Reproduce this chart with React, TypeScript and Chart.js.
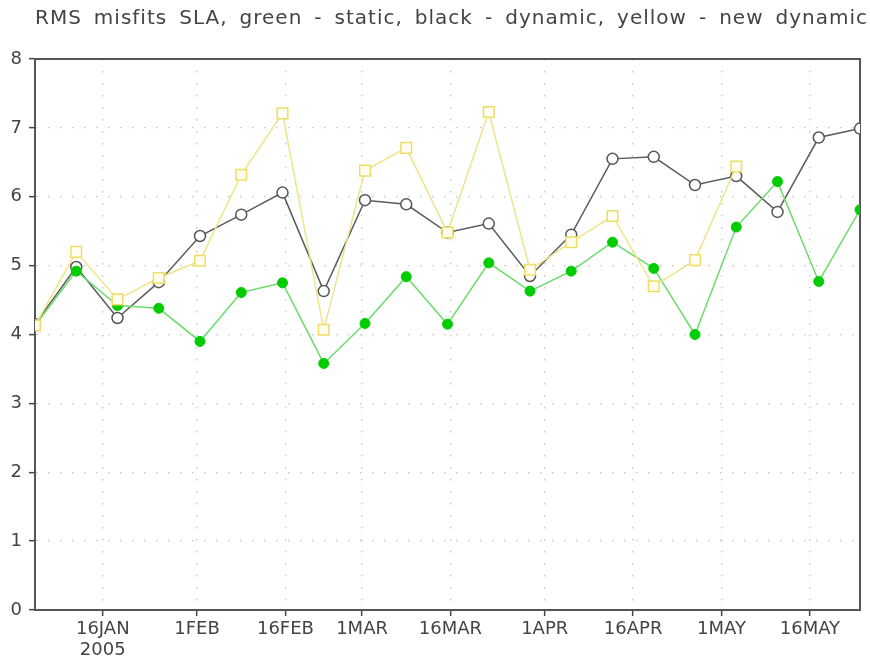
import React, { useEffect, useRef } from "react";
import { Chart, registerables } from "chart.js";

Chart.register(...registerables);

const TITLE = "RMS misfits SLA, green - static, black - dynamic, yellow - new dynamic";

// weekly analysis dates (12Z)
const dates = [
  "2005-01-04T12:00:00Z", "2005-01-11T12:00:00Z", "2005-01-18T12:00:00Z", "2005-01-25T12:00:00Z",
  "2005-02-01T12:00:00Z", "2005-02-08T12:00:00Z", "2005-02-15T12:00:00Z", "2005-02-22T12:00:00Z",
  "2005-03-01T12:00:00Z", "2005-03-08T12:00:00Z", "2005-03-15T12:00:00Z", "2005-03-22T12:00:00Z",
  "2005-03-29T12:00:00Z", "2005-04-05T12:00:00Z", "2005-04-12T12:00:00Z", "2005-04-19T12:00:00Z",
  "2005-04-26T12:00:00Z", "2005-05-03T12:00:00Z", "2005-05-10T12:00:00Z", "2005-05-17T12:00:00Z",
  "2005-05-24T12:00:00Z",
];

const staticRms = [
  4.13, 4.92, 4.42, 4.38, 3.9, 4.61, 4.75, 3.58, 4.16, 4.84, 4.15,
  5.04, 4.63, 4.92, 5.34, 4.96, 4.0, 5.56, 6.22, 4.77, 5.81,
];

const dynamicRms = [
  4.15, 4.98, 4.24, 4.76, 5.43, 5.74, 6.06, 4.63, 5.95, 5.89, 5.48,
  5.61, 4.85, 5.45, 6.55, 6.58, 6.17, 6.3, 5.78, 6.86, 6.99,
];

const newDynamicRms: (number | null)[] = [
  4.13, 5.2, 4.51, 4.82, 5.07, 6.32, 7.21, 4.07, 6.38, 6.71, 5.48,
  7.23, 4.94, 5.34, 5.72, 4.7, 5.08, 6.44, null, null, null,
];

const tickDates = [
  "2005-01-16T00:00:00Z", "2005-02-01T00:00:00Z", "2005-02-16T00:00:00Z",
  "2005-03-01T00:00:00Z", "2005-03-16T00:00:00Z", "2005-04-01T00:00:00Z",
  "2005-04-16T00:00:00Z", "2005-05-01T00:00:00Z", "2005-05-16T00:00:00Z",
];
const tickLabels: (string | string[])[] = [
  ["16JAN", "2005"], "1FEB", "16FEB", "1MAR", "16MAR", "1APR", "16APR", "1MAY", "16MAY",
];

const yTicks = [0, 1, 2, 3, 4, 5, 6, 7, 8];

const DAY0 = Date.UTC(2005, 0, 1);
const toDay = (iso: string) => (Date.parse(iso) - DAY0) / 86400000;

const FONT = '"DejaVu Sans", "Noto Sans", sans-serif';
const TEXT = "#444";

const titlePlugin = {
  id: "rmsTitle",
  afterDraw(chart: any) {
    const ctx = chart.ctx as CanvasRenderingContext2D;
    ctx.save();
    ctx.font = `20px ${FONT}`;
    (ctx as any).letterSpacing = "1px";
    ctx.fillStyle = TEXT;
    ctx.textAlign = "left";
    ctx.textBaseline = "alphabetic";
    const words = TITLE.split(" ");
    const widths = words.map((w) => ctx.measureText(w).width);
    const total = widths.reduce((a, b) => a + b, 0);
    const left = 35;
    const right = 868;
    const gap = (right - left - total) / (words.length - 1);
    let x = left;
    words.forEach((w, i) => {
      ctx.fillText(w, x, 24);
      x += widths[i] + gap;
    });
    ctx.restore();
  },
};

const framePlugin = {
  id: "frame",
  beforeDatasetsDraw(chart: any) {
    const { ctx, chartArea } = chart;
    ctx.save();
    ctx.strokeStyle = "#555";
    ctx.lineWidth = 2;
    ctx.strokeRect(chartArea.left, chartArea.top, chartArea.right - chartArea.left, chartArea.bottom - chartArea.top);
    ctx.restore();
  },
};

export default function App() {
  const ref = useRef<HTMLCanvasElement | null>(null);

  useEffect(() => {
    if (!ref.current) return;
    const xs = dates.map(toDay);
    const tickValues = tickDates.map(toDay);

    const chart = new Chart(ref.current, {
      type: "line",
      data: {
        datasets: [
          {
            label: "dynamic",
            data: xs.map((x, i) => ({ x, y: dynamicRms[i] })),
            borderColor: "#5a5a5a",
            borderWidth: 1.5,
            pointStyle: "circle",
            pointRadius: 5.5,
            pointBackgroundColor: "#ffffff",
            pointBorderColor: "#555555",
            pointBorderWidth: 1.5,
            order: 3,
            clip: 0,
          },
          {
            label: "static",
            data: xs.map((x, i) => ({ x, y: staticRms[i] })),
            borderColor: "#6cdc6c",
            borderWidth: 1.5,
            pointStyle: "circle",
            pointRadius: 5,
            pointBackgroundColor: "#00cc00",
            pointBorderColor: "#00cc00",
            pointBorderWidth: 1,
            order: 2,
            clip: 0,
          },
          {
            label: "new dynamic",
            data: xs.map((x, i) => ({ x, y: newDynamicRms[i] })),
            borderColor: "#eee48a",
            borderWidth: 1.5,
            pointStyle: "rect",
            pointRadius: 7.5,
            pointBackgroundColor: "#fffdf0",
            pointBorderColor: "#eedd66",
            pointBorderWidth: 1.5,
            order: 1,
            clip: 0,
            spanGaps: false,
          },
        ] as any,
      },
      options: {
        animation: false,
        responsive: false,
        layout: { padding: { top: 59, right: 10, left: 0, bottom: 0 } },
        plugins: {
          legend: { display: false },
          tooltip: { enabled: false },
          title: { display: false },
        },
        scales: {
          x: {
            type: "linear",
            min: xs[0],
            max: xs[xs.length - 1],
            afterBuildTicks: (scale: any) => {
              scale.ticks = tickValues.map((v) => ({ value: v }));
            },
            afterFit: (scale: any) => {
              scale.height = 50;
            },
            ticks: {
              autoSkip: false,
              maxRotation: 0,
              padding: 3,
              color: TEXT,
              font: { family: FONT, size: 18, lineHeight: 1.17 },
              callback: (value: any) => {
                const idx = tickValues.findIndex((t) => Math.abs(t - Number(value)) < 1e-6);
                return idx >= 0 ? tickLabels[idx] : "";
              },
            },
            grid: {
              color: "#c4c4c4",
              lineWidth: 1.3,
              tickLength: 6,
              tickColor: "#444",
              tickWidth: 1.5,
              tickBorderDash: [],
            } as any,
            border: { display: true, color: "#444", width: 2, dash: [1.5, 10.5] },
          },
          y: {
            type: "linear",
            min: 0,
            max: 8,
            afterBuildTicks: (scale: any) => {
              scale.ticks = yTicks.map((v) => ({ value: v }));
            },
            afterFit: (scale: any) => {
              scale.width = 35;
            },
            ticks: {
              padding: 7,
              color: TEXT,
              font: { family: FONT, size: 18 },
              callback: (value: any) => String(value),
            },
            grid: {
              color: "#c4c4c4",
              lineWidth: 1.3,
              tickLength: 6,
              tickColor: "#444",
              tickWidth: 1.5,
              tickBorderDash: [],
            } as any,
            border: { display: true, color: "#444", width: 2, dash: [1.5, 10.5] },
          },
        },
      },
      plugins: [framePlugin, titlePlugin],
    });

    return () => chart.destroy();
  }, []);

  return (
    <div style={{ position: "absolute", left: 0, top: 0, width: 870, height: 660, background: "#fff" }}>
      <canvas ref={ref} width={870} height={660} style={{ display: "block" }} />
    </div>
  );
}
